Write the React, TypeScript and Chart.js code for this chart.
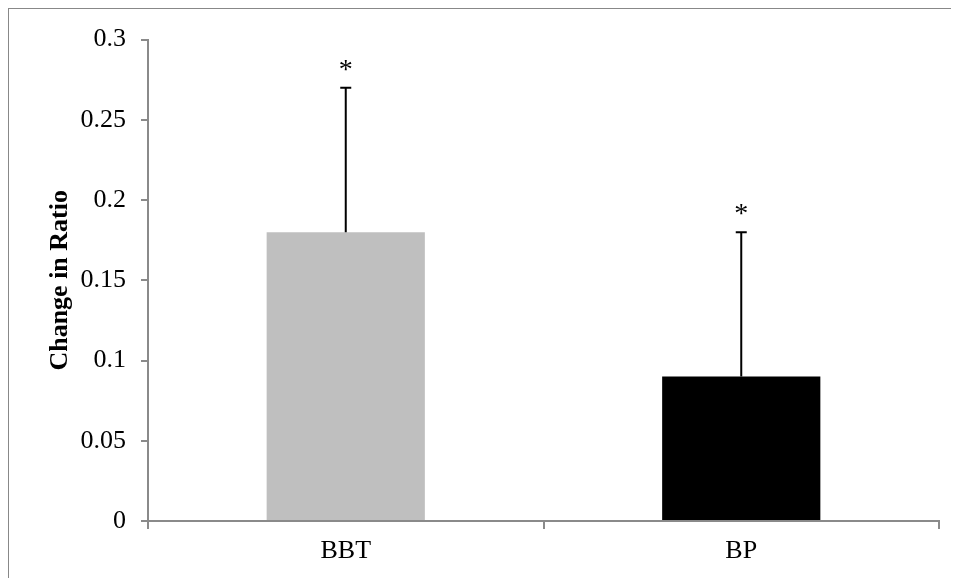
import React, { useEffect, useRef } from "react";
import { Chart, registerables } from "chart.js";

Chart.register(...registerables);

const categories: string[] = ["BBT", "BP"];
const values: number[] = [0.18, 0.09];
const upperErrors: number[] = [0.09, 0.09];
const significance: string[] = ["*", "*"];
const barColors: string[] = ["#BFBFBF", "#000000"];
const yMin = 0;
const yMax = 0.3;
const yStep = 0.05;

const FONT = "'Liberation Serif', 'Times New Roman', serif";
const AXIS = "#8a8a8a";

const errorBarPlugin = {
  id: "errorBars",
  afterDatasetsDraw(chart: any) {
    const { ctx } = chart;
    const meta = chart.getDatasetMeta(0);
    const yScale = chart.scales.y;
    ctx.save();
    meta.data.forEach((bar: any, i: number) => {
      const x = bar.x;
      const yTop = yScale.getPixelForValue(values[i] + upperErrors[i]);
      const yBase = yScale.getPixelForValue(values[i]);
      ctx.strokeStyle = "#000";
      ctx.lineWidth = 2;
      ctx.beginPath();
      ctx.moveTo(x, yBase);
      ctx.lineTo(x, yTop);
      ctx.moveTo(x - 5.5, yTop);
      ctx.lineTo(x + 5.5, yTop);
      ctx.stroke();
      ctx.fillStyle = "#000";
      ctx.font = `28px ${FONT}`;
      ctx.textAlign = "center";
      ctx.textBaseline = "alphabetic";
      ctx.fillText(significance[i], x, yTop - 10);
    });
    ctx.restore();
  },
};

export default function App() {
  const ref = useRef<HTMLCanvasElement | null>(null);

  useEffect(() => {
    if (!ref.current) return;
    const chart = new Chart(ref.current, {
      type: "bar",
      data: {
        labels: categories,
        datasets: [
          {
            data: values,
            backgroundColor: barColors,
            borderWidth: 0,
            barPercentage: 0.4,
            categoryPercentage: 1.0,
          },
        ],
      },
      options: {
        animation: false,
        responsive: false,
        maintainAspectRatio: false,
        layout: { padding: { left: 0, right: 20, top: 29, bottom: 0 } },
        plugins: {
          legend: { display: false },
          tooltip: { enabled: false },
        },
        scales: {
          x: {
            offset: true,
            grid: {
              offset: true,
              drawOnChartArea: false,
              drawTicks: true,
              tickLength: 8,
              color: AXIS,
              lineWidth: 2,
            },
            border: { display: true, color: AXIS, width: 2 },
            ticks: {
              color: "#000",
              font: { family: FONT, size: 26 },
              padding: 7,
            },
            afterFit(scale: any) {
              scale.height = 57;
            },
          },
          y: {
            min: yMin,
            max: yMax,
            grid: {
              drawOnChartArea: false,
              drawTicks: true,
              tickLength: 7,
              color: AXIS,
              lineWidth: 2,
            },
            border: { display: true, color: AXIS, width: 2 },
            ticks: {
              stepSize: yStep,
              color: "#000",
              font: { family: FONT, size: 26 },
              padding: 15,
              callback: (v: any) => String(parseFloat(Number(v).toFixed(2))),
            },
            title: {
              display: true,
              text: "Change in Ratio",
              color: "#000",
              font: { family: FONT, size: 26, weight: "bold" },
              padding: { top: 36, bottom: 0 },
            },
            afterFit(scale: any) {
              scale.width = 139;
            },
          },
        },
      },
      plugins: [errorBarPlugin],
    });
    return () => chart.destroy();
  }, []);

  return (
    <div
      style={{
        marginLeft: -1,
        borderTop: "1px solid #888",
        borderLeft: "2px solid #888",
        width: 950,
        height: 569,
        overflow: "hidden",
      }}
    >
      <canvas ref={ref} width={950} height={569} style={{ display: "block" }} />
    </div>
  );
}
